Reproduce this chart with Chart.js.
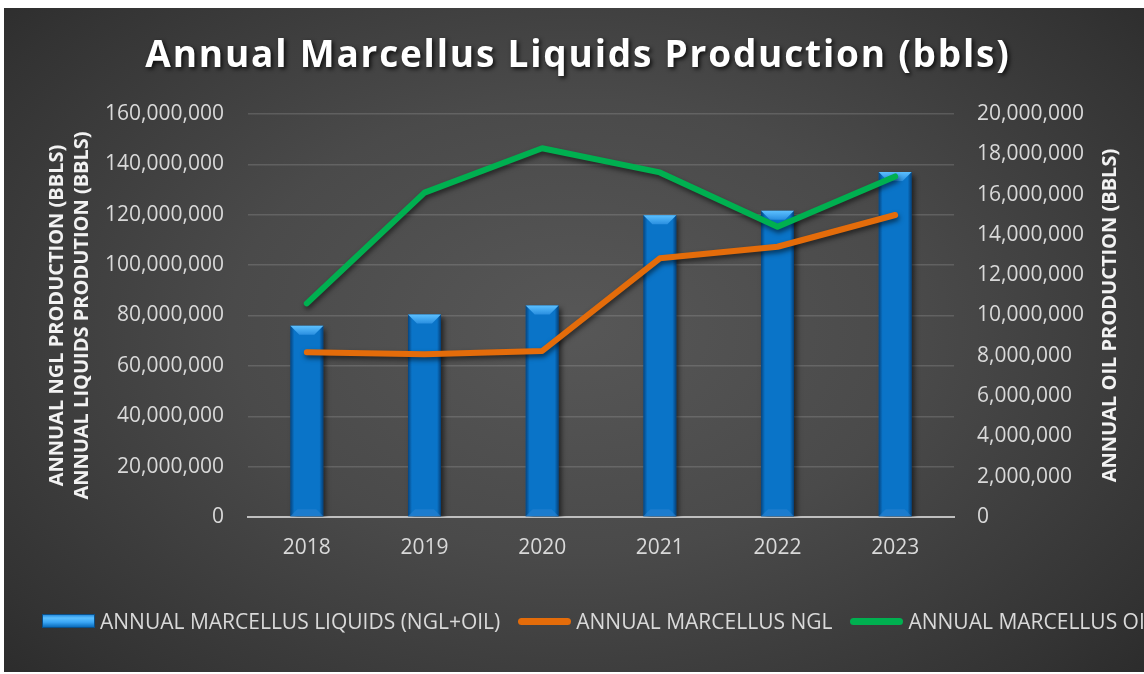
<!DOCTYPE html>
<html>
<head>
<meta charset="utf-8">
<script src="https://cdn.jsdelivr.net/npm/chart.js@4"></script>
<style>
  html, body { margin: 0; padding: 0; background: #fff; overflow: hidden; }
  #panel {
    position: absolute; left: 4px; top: 8px; width: 1140px; height: 664px;
    background: radial-gradient(ellipse 75% 85% at 50% 48%, #575757 0%, #4a4a4a 40%, #333 80%, #262626 100%);
  }
  #wrap { position: absolute; left: 0; top: 0; width: 1144px; height: 674px; }
  #legend {
    position: absolute; left: 42px; top: 606px; width: 1102px; height: 30px; overflow: hidden;
    display: flex; align-items: center;
    white-space: nowrap; font-family: "Open Sans", sans-serif; font-size: 21px; color: #d9d9d9;
  }
  #legend .item { display: flex; flex: none; align-items: center; margin-right: 18px; }
  #legend .icon { flex: none; width: 53px; height: 14px; margin-right: 5px; box-sizing: border-box; }
</style>
</head>
<body>
<div id="panel"></div>
<div id="wrap"><canvas id="chart" width="1144" height="674"></canvas></div>
<div id="legend"></div>
<script>
// values
const years = ['2018', '2019', '2020', '2021', '2022', '2023'];
const liquids = [75.9e6, 80.4e6, 84.0e6, 119.8e6, 121.6e6, 137.0e6];
const ngl = [65.4e6, 64.6e6, 65.9e6, 102.7e6, 107.3e6, 119.9e6];
const oil = [10.6e6, 16.1e6, 18.3e6, 17.1e6, 14.4e6, 16.9e6];

const chartTitle = 'Annual Marcellus Liquids Production (bbls)';
const leftTitle = ['ANNUAL NGL PRODUCTION (BBLS)', 'ANNUAL LIQUIDS PRODUTION (BBLS)'];
const rightTitle = 'ANNUAL OIL PRODUCTION (BBLS)';
const seriesNames = ['ANNUAL MARCELLUS LIQUIDS (NGL+OIL)', 'ANNUAL MARCELLUS NGL', 'ANNUAL MARCELLUS OIL'];

const tickColor = '#d9d9d9';
const fmt = v => Number(v).toLocaleString('en-US');

// shadows under bars and lines, bevel on the bars
const effects = {
  id: 'effects',
  beforeDatasetDraw(chart, args) {
    const ctx = chart.ctx;
    ctx.save();
    ctx.shadowColor = 'rgba(0,0,0,0.55)';
    ctx.shadowBlur = 5;
    ctx.shadowOffsetX = args.index === 0 ? 3 : 1;
    ctx.shadowOffsetY = 3;
  },
  afterDatasetDraw(chart, args) {
    const ctx = chart.ctx;
    ctx.restore();
    if (args.index !== 0) return;
    args.meta.data.forEach(bar => {
      const l = bar.x - bar.width / 2, r = bar.x + bar.width / 2;
      const t = bar.y, b = bar.base;
      const edge = ctx.createLinearGradient(l, 0, r, 0);
      edge.addColorStop(0, 'rgba(0,30,70,0.55)');
      edge.addColorStop(0.12, 'rgba(0,30,70,0)');
      edge.addColorStop(0.88, 'rgba(0,30,70,0)');
      edge.addColorStop(1, 'rgba(0,30,70,0.6)');
      ctx.fillStyle = edge;
      ctx.fillRect(l, t, r - l, b - t);
      // top bevel
      ctx.beginPath();
      ctx.moveTo(l, t);
      ctx.lineTo(r, t);
      ctx.lineTo(r - 9, t + 9);
      ctx.lineTo(l + 9, t + 9);
      ctx.closePath();
      const g = ctx.createLinearGradient(0, t, 0, t + 9);
      g.addColorStop(0, '#5cc0ff');
      g.addColorStop(1, '#2a8fe0');
      ctx.fillStyle = g;
      ctx.fill();
      // bottom bevel
      ctx.beginPath();
      ctx.moveTo(l, b);
      ctx.lineTo(r, b);
      ctx.lineTo(r - 7, b - 7);
      ctx.lineTo(l + 7, b - 7);
      ctx.closePath();
      ctx.fillStyle = 'rgba(40,130,210,0.6)';
      ctx.fill();
    });
  },
  afterDraw(chart) {
    const ctx = chart.ctx;
    ctx.save();
    // chart title
    ctx.font = 'bold 37px "Open Sans"';
    ctx.letterSpacing = '1.8px';
    ctx.textAlign = 'center';
    ctx.textBaseline = 'middle';
    ctx.shadowColor = 'rgba(0,0,0,0.8)';
    ctx.shadowBlur = 4;
    ctx.shadowOffsetX = 2;
    ctx.shadowOffsetY = 2;
    ctx.fillStyle = '#ffffff';
    ctx.fillText(chartTitle, 578, 56);
    ctx.restore();
    // right axis title, reads bottom to top like the left one
    const area = chart.chartArea;
    ctx.save();
    ctx.translate(1110, (area.top + area.bottom) / 2);
    ctx.rotate(-Math.PI / 2);
    ctx.font = 'bold 20px "Open Sans"';
    ctx.textAlign = 'center';
    ctx.textBaseline = 'middle';
    ctx.fillStyle = '#f2f2f2';
    ctx.fillText(rightTitle, 0, 0);
    ctx.restore();
  }
};

const chart = new Chart(document.getElementById('chart'), {
  type: 'bar',
  data: {
    labels: years,
    datasets: [
      {
        type: 'bar', label: seriesNames[0], data: liquids, yAxisID: 'y',
        backgroundColor: '#0a74c8', borderWidth: 0,
        barPercentage: 0.28, categoryPercentage: 1, order: 3
      },
      {
        type: 'line', label: seriesNames[1], data: ngl, yAxisID: 'y',
        borderColor: '#e46c0a', borderWidth: 6, borderCapStyle: 'round', borderJoinStyle: 'round',
        pointRadius: 0, tension: 0, order: 2
      },
      {
        type: 'line', label: seriesNames[2], data: oil, yAxisID: 'y2',
        borderColor: '#00b050', borderWidth: 6, borderCapStyle: 'round', borderJoinStyle: 'round',
        pointRadius: 0, tension: 0, order: 1
      }
    ]
  },
  options: {
    responsive: false,
    animation: false,
    layout: { padding: { left: 35, right: 0, top: 114, bottom: 0 } },
    plugins: {
      legend: { display: false },
      title: { display: false },
      tooltip: { enabled: false }
    },
    scales: {
      x: {
        grid: { display: false, drawTicks: false },
        border: { color: '#bfbfbf', width: 2 },
        ticks: { color: tickColor, font: { family: 'Open Sans', size: 21 }, padding: 18 },
        afterFit: s => { s.height = 157; }
      },
      y: {
        position: 'left', min: 0, max: 160e6,
        grid: { color: 'rgba(200,200,200,0.2)', lineWidth: 1.5, drawTicks: false },
        border: { display: false },
        ticks: { stepSize: 20e6, color: tickColor, font: { family: 'Open Sans', size: 21 }, padding: 24, callback: fmt },
        title: {
          display: true, text: leftTitle, color: '#f2f2f2',
          font: { family: 'Open Sans', size: 20, weight: 'bold', lineHeight: 1.25 },
          padding: { top: 10, bottom: 0 }
        },
        afterFit: s => { s.width = 248 - 35; }
      },
      y2: {
        position: 'right', min: 0, max: 20e6,
        grid: { display: false, drawTicks: false },
        border: { display: false },
        ticks: { stepSize: 2e6, color: tickColor, font: { family: 'Open Sans', size: 21 }, padding: 23, callback: fmt },
        afterFit: s => { s.width = 1144 - 954; }
      }
    }
  },
  plugins: [effects]
});

// legend built from the chart's datasets, clipped at the right edge like the original
const legendEl = document.getElementById('legend');
chart.data.datasets.forEach((ds, i) => {
  const item = document.createElement('span');
  item.className = 'item';
  const icon = document.createElement('span');
  icon.className = 'icon';
  if (ds.type === 'bar') {
    icon.style.background = 'linear-gradient(#2a8fe0 0%, #5cc0ff 25%, #3aa6f5 60%, #0a6cbc 100%)';
    icon.style.border = '1px solid #0a4f88';
  } else {
    icon.style.height = '7px';
    icon.style.borderRadius = '4px';
    icon.style.background = ds.borderColor;
  }
  const txt = document.createElement('span');
  txt.textContent = ds.label;
  item.appendChild(icon);
  item.appendChild(txt);
  legendEl.appendChild(item);
});
</script>
</body>
</html>
